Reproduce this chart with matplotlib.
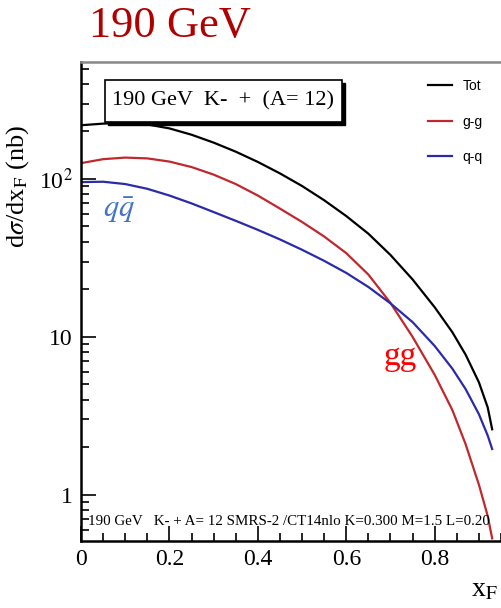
import matplotlib
matplotlib.use('Agg')
import matplotlib.pyplot as plt
from matplotlib.patches import Rectangle
from matplotlib.ticker import FixedLocator, LogLocator, MultipleLocator, NullFormatter

plt.rcParams['font.family'] = ['Liberation Serif', 'DejaVu Serif']
plt.rcParams['mathtext.fontset'] = 'stix'

# values (nb), log scale
xf = [0, 0.05, 0.1, 0.15, 0.2, 0.25, 0.3, 0.35, 0.4, 0.45, 0.5, 0.55,
      0.6, 0.65, 0.7, 0.75, 0.8, 0.84, 0.87, 0.9, 0.92, 0.93]
tot = [218.8, 223.9, 226.5, 221.3, 208.9, 190.5, 169.8, 148.8, 128.1, 108.4, 90.2, 73.3,
       58.2, 45.0, 33.0, 23.1, 15.4, 10.7, 7.71, 5.16, 3.57, 2.6]
gg = [125.9, 133.4, 136.5, 134.9, 128.8, 118.9, 106.5, 92.8, 78.5, 64.9, 53.4, 43.2,
      33.9, 24.8, 16.4, 10.0, 5.75, 3.44, 2.09, 1.16, 0.733, 0.53]
qq = [95.5, 96.0, 92.8, 86.6, 78.5, 70.0, 61.7, 54.3, 47.6, 41.4, 35.6, 30.3,
      25.4, 20.7, 16.3, 12.4, 8.76, 6.29, 4.67, 3.24, 2.37, 1.95]
series_names = ['Tot', 'g-g', 'q-q']
series_colors = ['black', '#c0282d', '#2a2aaa']

fig = plt.figure(figsize=(5.01, 6.08), dpi=100)
ax = fig.add_axes([81 / 501, 67 / 608, 1 - 81 / 501, 479 / 608])

for ys, name, c in zip([tot, gg, qq], series_names, series_colors):
    ax.plot(xf, ys, color=c, lw=1.6, label=name, solid_joinstyle='round')

ax.set_yscale('log')
ax.set_xlim(0, 0.95)
ax.set_ylim(0.51, 550)

# ROOT-like ticks
ax.set_xticks([0, 0.2, 0.4, 0.6, 0.8])
ax.set_xticklabels(['0', '0.2', '0.4', '0.6', '0.8'])
ax.xaxis.set_minor_locator(MultipleLocator(0.05))
ax.yaxis.set_major_locator(FixedLocator([1, 10, 100]))
ax.set_yticklabels(['1', '10', r'10$^2$'])
ax.yaxis.set_minor_locator(LogLocator(base=10, subs=range(2, 10)))
ax.yaxis.set_minor_formatter(NullFormatter())
ax.tick_params(which='both', direction='in', top=False, right=False,
               labelsize=17, width=1.2, pad=6)
ax.tick_params(which='major', length=11)
ax.tick_params(which='minor', length=6)

for s in ['left', 'bottom']:
    ax.spines[s].set_linewidth(1.8)
ax.spines['top'].set_color('#888888')
ax.spines['top'].set_linewidth(1.8)
ax.spines['right'].set_visible(False)

ax.set_ylabel(r'd$\sigma$/dx$_{\mathrm{F}}$ (nb)', fontsize=19)
ax.yaxis.set_label_coords(-50 / 420, 0.74)
fig.text(484 / 501, 1 - 590 / 608, r'x$_{\mathrm{F}}$', fontsize=20,
         ha='center', va='center')

fig.text(170 / 501, 1 - 26 / 608, '190 GeV', color='#b00000', fontsize=32,
         ha='center', va='center')

# pave with shadow
bx0, by0, bw, bh = 105 / 501, 1 - 122 / 608, 237 / 501, 42 / 608
fig.add_artist(Rectangle((bx0 + 3 / 501, by0 - 3 / 608), bw, bh,
                         transform=fig.transFigure, fc='black', ec='black', zorder=5))
fig.add_artist(Rectangle((bx0, by0), bw, bh, transform=fig.transFigure,
                         fc='white', ec='black', lw=1.2, zorder=6))
fig.text(bx0 + bw / 2, by0 + bh / 2, '190 GeV  K-  +  (A= 12)', fontsize=16,
         ha='center', va='center', zorder=7)

leg = ax.legend(loc='upper left', bbox_to_anchor=(428 / 501, 1 - 79 / 608),
                bbox_transform=fig.transFigure, frameon=False,
                handlelength=1.7, handletextpad=0.8, labelspacing=1.55,
                borderpad=0, borderaxespad=0,
                prop={'family': 'Liberation Sans', 'size': 10})

ax.text(0.017, 0.028, '190 GeV   K- + A= 12 SMRS-2 /CT14nlo K=0.300 M=1.5 L=0.20',
        transform=ax.transAxes, fontsize=10.8, ha='left', va='bottom')

ax.text(0.086, 63, r'$q\bar{q}$', color='#4472c4', fontsize=22,
        ha='center', va='center')
ax.text(0.723, 7.5, 'gg', color='#ff0000', fontsize=24,
        ha='center', va='center')

fig.savefig('out.png', dpi=100)
